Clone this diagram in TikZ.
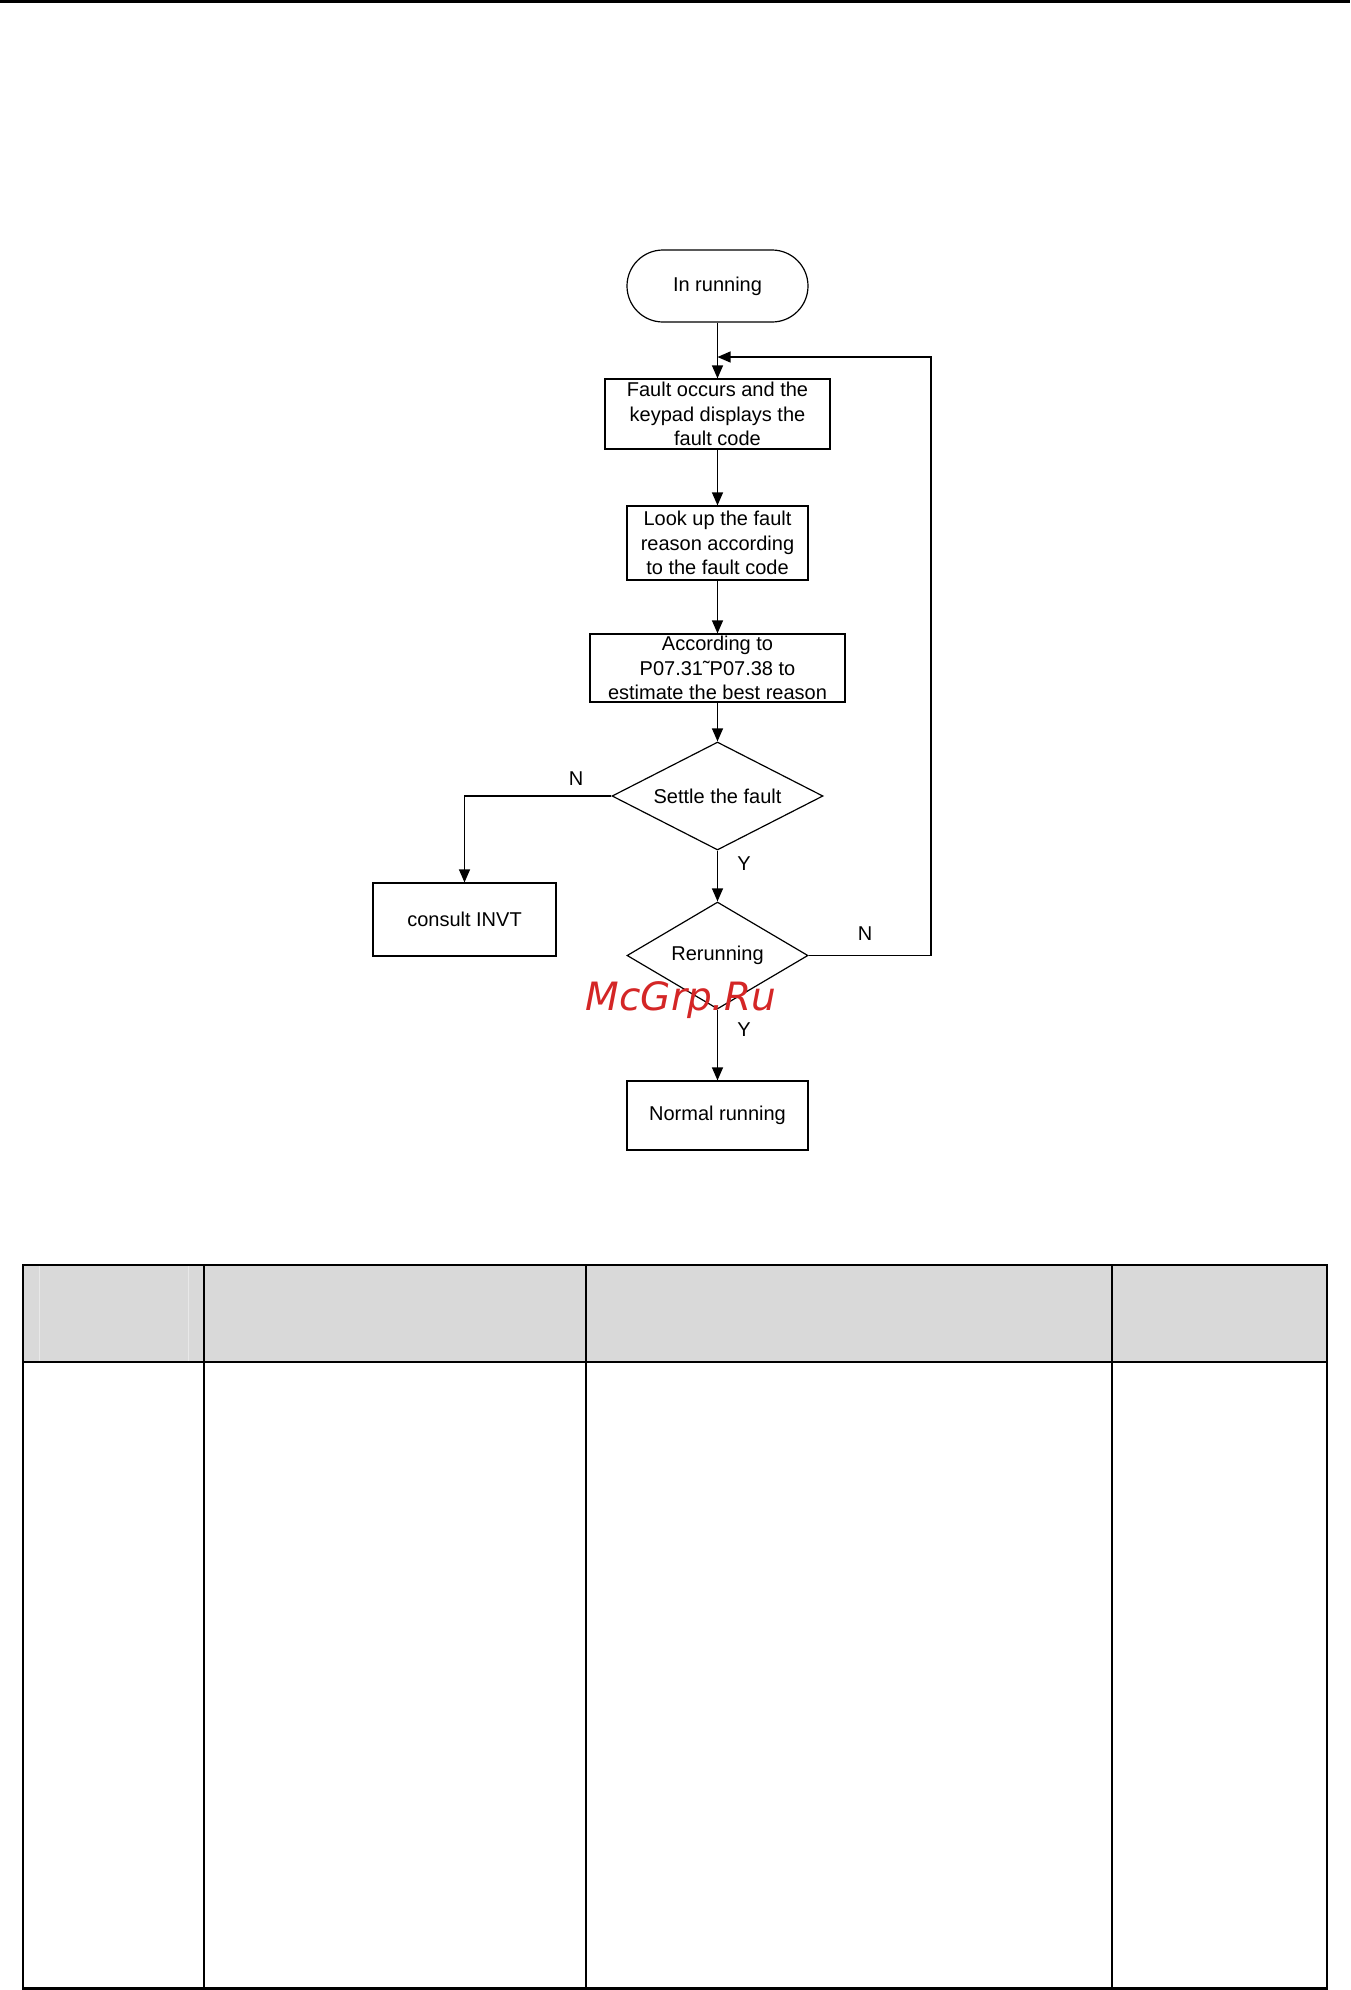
\documentclass[tikz,border=0pt]{standalone}
\usepackage{fontspec}
\setmainfont{Liberation Sans}
\newfontfamily\wmfont{DejaVu Sans}
\usetikzlibrary{shapes.geometric,arrows.meta}
\definecolor{hdrgray}{RGB}{217,217,217}
\definecolor{hdrline}{RGB}{232,232,232}
\definecolor{wmred}{RGB}{212,38,38}
\tikzset{
  flow/.style={draw=black, line width=1.2pt, inner sep=0pt, align=center,
    font=\fontsize{20}{24.7}\selectfont},
  stepbox/.style={flow, rectangle},
  termbox/.style={flow, rectangle, rounded corners=36pt},
  decbox/.style={flow, diamond, aspect=1.95},
  conn/.style={line width=1.2pt, -{Triangle[length=13pt,width=11pt]}},
  lbl/.style={font=\fontsize{20}{24}\selectfont, inner sep=0pt},
  tline/.style={line width=2pt},
}
\begin{document}
\begin{tikzpicture}[x=1pt,y=-1pt]
\useasboundingbox (0,0) rectangle (1350,1990);
% top rule
\fill[black] (0,0) rectangle (1350,3);

% flowchart nodes
\node[termbox, minimum width=181pt, minimum height=72pt] (start) at (717.5,286) {In running};
\node[stepbox, minimum width=225pt, minimum height=70pt] (fault) at (717.5,414) {Fault occurs and the\\keypad displays the\\fault code};
\node[stepbox, minimum width=181pt, minimum height=74pt] (look) at (717.5,543) {Look up the fault\\reason according\\to the fault code};
\node[stepbox, minimum width=255pt, minimum height=68pt] (est) at (717.5,668) {According to\\P07.31\char"02DC P07.38 to\\estimate the best reason};
\node[decbox, minimum width=211pt, minimum height=108pt] (settle) at (717.5,796) {Settle the fault};
\node[stepbox, minimum width=183pt, minimum height=73pt] (consult) at (464.5,919.5) {consult INVT};
\node[decbox, minimum width=181pt, minimum height=107pt] (rerun) at (717.5,955.5) {\raisebox{-2pt}{Rerunning}};
\node[stepbox, minimum width=181pt, minimum height=69pt] (normal) at (717.5,1115.5) {Normal running};

% labels
\node[lbl] (n1) at (576,779) {N};
\node[lbl] (y1) at (744,864) {Y};
\node[lbl] (n2) at (865,934) {N};
\node[lbl] (y2) at (744,1030) {Y};

% helper coordinates
\coordinate (loopin) at (717.5,357);
\coordinate (loopbot) at (931,955.5);
\coordinate (looptop) at (931,357);
\coordinate (nleft) at (464.5,796);

% connectors
\draw[conn] (start.south) -- (fault.north);
\draw[conn] (fault.south) -- (look.north);
\draw[conn] (look.south) -- (est.north);
\draw[conn] (est.south) -- (settle.north);
\draw[conn] (settle.west) -- (nleft) -- (consult.north);
\draw[conn] (settle.south) -- (rerun.north);
\draw[conn] (rerun.east) -- (loopbot) -- (looptop) -- (loopin);
\draw[conn] (rerun.south) -- (normal.north);

% watermark
\node[inner sep=0pt, anchor=base, text=wmred, font=\wmfont\itshape\fontsize{39}{44}\selectfont] (wm) at (681,1010) {McGrp.Ru};

% table
\fill[hdrgray] (23,1265) rectangle (1327,1362);
\draw[hdrline, line width=1pt] (39,1266) -- (39,1361);
\draw[hdrline, line width=1pt] (188,1266) -- (188,1361);
\draw[tline] (23,1265) -- (1327,1265);
\draw[tline] (23,1362) -- (1327,1362);
\draw[line width=3pt] (22,1988.5) -- (1328,1988.5);
\draw[tline] (23,1264) -- (23,1990);
\draw[tline] (204,1265) -- (204,1988);
\draw[tline] (586,1265) -- (586,1988);
\draw[tline] (1112,1265) -- (1112,1988);
\draw[tline] (1327,1264) -- (1327,1990);
\end{tikzpicture}
\end{document}
